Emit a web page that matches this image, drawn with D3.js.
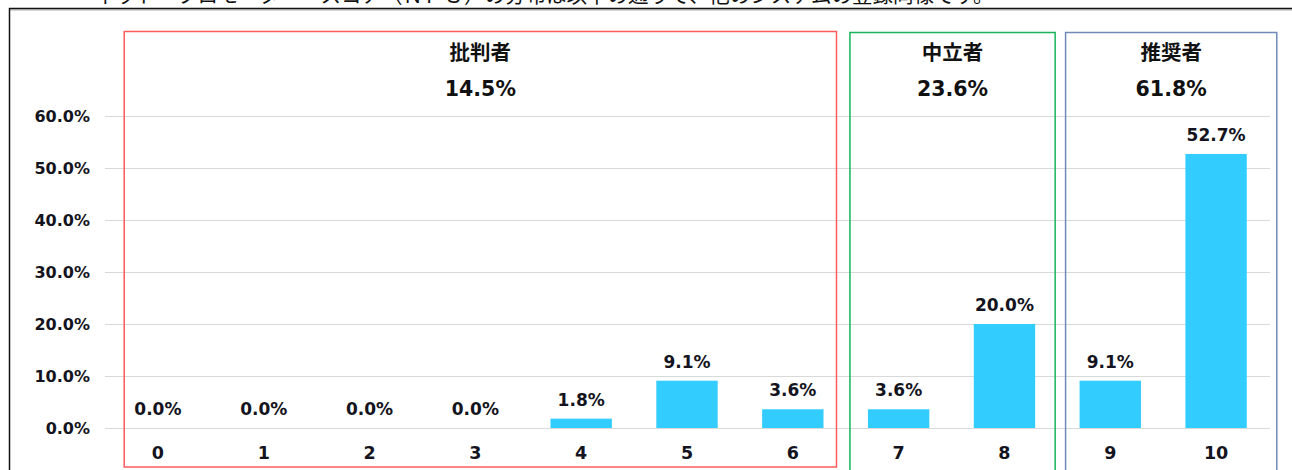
<!DOCTYPE html>
<html>
<head>
<meta charset="utf-8">
<script src="https://cdn.jsdelivr.net/npm/d3@7"></script>
<style>
  body { margin: 0; background: #fff; }
  svg { display: block; }
</style>
</head>
<body>
<div id="chart"></div>
<script>
// data
var scores = ["0", "1", "2", "3", "4", "5", "6", "7", "8", "9", "10"];
var shares = [0.0, 0.0, 0.0, 0.0, 1.8, 9.1, 3.6, 3.6, 20.0, 9.1, 52.7];
var yTicks = [0, 10, 20, 30, 40, 50, 60];
var groupNames = ["批判者", "中立者", "推奨者"];
var groupShares = ["14.5%", "23.6%", "61.8%"];
var groupFirst = ["0", "7", "9"];
var groupLast = ["6", "8", "10"];
var headerText = "ネット・プロモーター・スコア（ＮＰＳ）の分布は以下の通りで、他のシステムの登録同様です。";

var width = 1292, height = 470;
var numFont = "'DejaVu Sans', Verdana, sans-serif";
var jpFont = "'Noto Sans CJK JP', sans-serif";

var svg = d3.select("#chart").append("svg")
  .attr("width", width)
  .attr("height", height);

// cut-off sentence above the chart frame (only its lower edge shows)
svg.append("text")
  .attr("x", 95).attr("y", 3)
  .attr("font-family", jpFont)
  .attr("font-size", 20.5)
  .attr("fill", "#111")
  .text(headerText);

// chart frame
svg.append("line").attr("x1", 9).attr("x2", width).attr("y1", 10).attr("y2", 10)
  .attr("stroke", "#aaa").attr("stroke-width", 1);
svg.append("line").attr("x1", 9).attr("x2", width).attr("y1", 8.5).attr("y2", 8.5)
  .attr("stroke", "#111").attr("stroke-width", 1.5);
svg.append("line").attr("x1", 9.5).attr("x2", 9.5).attr("y1", 8).attr("y2", height)
  .attr("stroke", "#111").attr("stroke-width", 1.5);

var x = d3.scaleBand()
  .domain(scores)
  .range([105, 1269])
  .paddingInner(0.42)
  .paddingOuter(0.21);

var y = d3.scaleLinear()
  .domain([0, 60])
  .range([428, 116]);

// gridlines
svg.append("g")
  .selectAll("line")
  .data(yTicks)
  .enter().append("line")
    .attr("x1", 105).attr("x2", 1270)
    .attr("y1", d => y(d) + 0.5).attr("y2", d => y(d) + 0.5)
    .attr("stroke", "#d9d9d9").attr("stroke-width", 1);

// y labels
svg.append("g")
  .selectAll("text")
  .data(yTicks)
  .enter().append("text")
    .attr("x", 90)
    .attr("y", d => y(d) + 6)
    .attr("text-anchor", "end")
    .attr("font-family", numFont)
    .attr("font-weight", "bold")
    .attr("font-size", 16)
    .attr("fill", "#141420")
    .text(d => d3.format(".1f")(d) + "%");

// group boxes
var boxColors = ["#ff5b5b", "#17b35a", "#7189b6"];
var boxPad = [[-3, 13], [-18, 20], [-14, 30]];
var boxBottom = [467, 475, 475];
var groups = svg.append("g")
  .selectAll("g")
  .data(groupNames)
  .enter().append("g");

groups.append("rect")
  .attr("x", (d, i) => x(groupFirst[i]) + boxPad[i][0])
  .attr("y", (d, i) => i == 0 ? 31.5 : 32.5)
  .attr("width", (d, i) => x(groupLast[i]) + x.bandwidth() + boxPad[i][1] - x(groupFirst[i]) - boxPad[i][0])
  .attr("height", (d, i) => boxBottom[i] - (i == 0 ? 31.5 : 32.5))
  .attr("fill", "none")
  .attr("stroke", (d, i) => boxColors[i])
  .attr("stroke-width", 1.5);

function boxCenter(i) {
  var l = x(groupFirst[i]) + boxPad[i][0];
  var r = x(groupLast[i]) + x.bandwidth() + boxPad[i][1];
  return (l + r) / 2;
}

groups.append("text")
  .attr("x", (d, i) => boxCenter(i))
  .attr("y", 60)
  .attr("text-anchor", "middle")
  .attr("font-family", jpFont)
  .attr("font-weight", "bold")
  .attr("font-size", 20.5)
  .attr("fill", "#111")
  .text(d => d);

groups.append("text")
  .attr("x", (d, i) => boxCenter(i))
  .attr("y", 96)
  .attr("text-anchor", "middle")
  .attr("font-family", numFont)
  .attr("font-weight", "bold")
  .attr("font-size", 20.5)
  .attr("fill", "#111")
  .text((d, i) => groupShares[i]);

// bars
svg.append("g")
  .selectAll("rect")
  .data(shares)
  .enter().append("rect")
    .attr("x", (d, i) => x(scores[i]))
    .attr("y", d => y(d))
    .attr("width", x.bandwidth())
    .attr("height", d => y(0) - y(d))
    .attr("fill", "#33ccff");

// value labels
svg.append("g")
  .selectAll("text")
  .data(shares)
  .enter().append("text")
    .attr("x", (d, i) => x(scores[i]) + x.bandwidth() / 2)
    .attr("y", d => y(d) - 13)
    .attr("text-anchor", "middle")
    .attr("font-family", numFont)
    .attr("font-weight", "bold")
    .attr("font-size", 17)
    .attr("fill", "#141420")
    .text(d => d3.format(".1f")(d) + "%");

// category labels
svg.append("g")
  .selectAll("text")
  .data(scores)
  .enter().append("text")
    .attr("x", d => x(d) + x.bandwidth() / 2)
    .attr("y", 459)
    .attr("text-anchor", "middle")
    .attr("font-family", numFont)
    .attr("font-weight", "bold")
    .attr("font-size", 17.5)
    .attr("fill", "#141420")
    .text(d => d);
</script>
</body>
</html>
